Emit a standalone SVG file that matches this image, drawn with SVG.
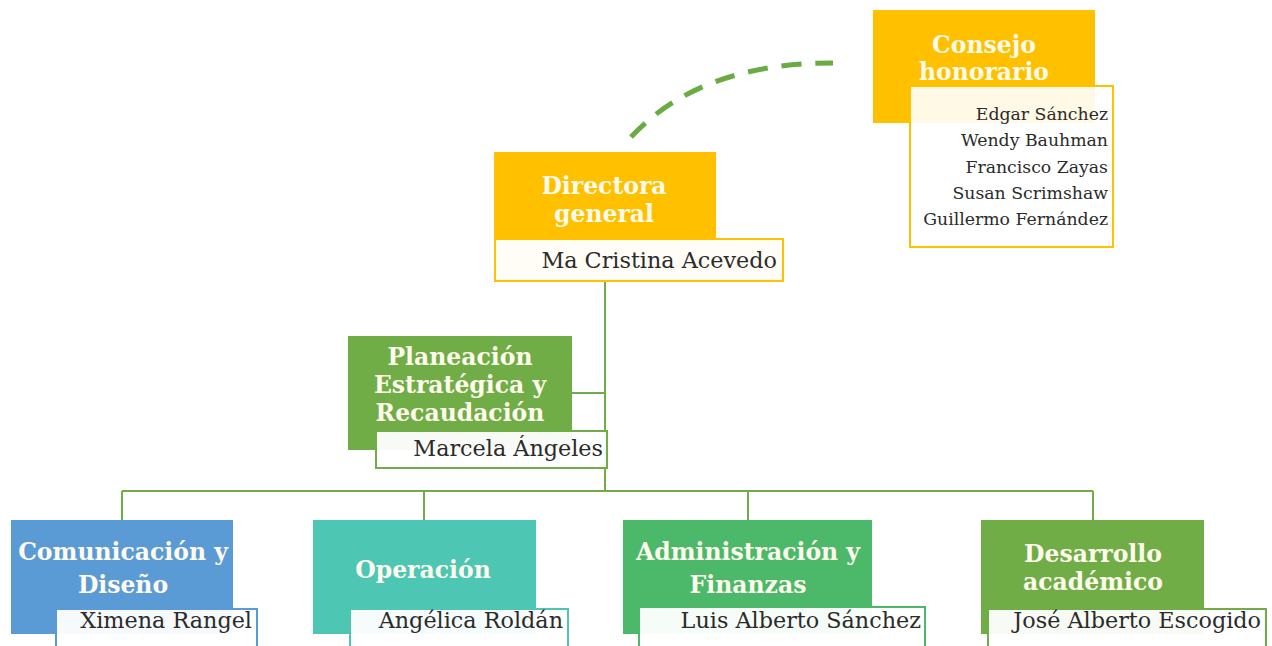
<svg xmlns="http://www.w3.org/2000/svg" width="1272" height="646" viewBox="0 0 1272 646">
<style>
.head{font-family:"DejaVu Serif","Liberation Serif",serif;font-weight:bold;font-size:23.5px;fill:#fffbec;text-anchor:middle}
.name{font-family:"DejaVu Serif","Liberation Serif",serif;font-size:22.3px;fill:#2b2b2b;text-anchor:end}
.small{font-family:"DejaVu Serif","Liberation Serif",serif;font-size:17.3px;fill:#2b2b2b;text-anchor:end}
.conn{fill:none;stroke:#70ad47;stroke-width:2}
.nb{stroke-width:2}
</style>
<rect width="1272" height="646" fill="#ffffff"/>
<g id="connectors">
<path class="conn" d="M605 282 V491 M572 393 H605 M122 491 H1093 M122 491 V520 M424 491 V520 M748 491 V520 M1093 491 V520"/>
<path d="M631 137 Q700 63 833 63" fill="none" stroke="#6aac43" stroke-width="5" stroke-dasharray="20 14"/>
</g>
<g id="consejo">
<rect x="873" y="10" width="222" height="113" fill="#ffc000"/>
<rect class="nb" x="910" y="86" width="203" height="161" fill="#ffffff" fill-opacity="0.9" stroke="#ffc000"/>
<text class="head" x="984" y="53">Consejo</text>
<text class="head" x="984" y="80">honorario</text>
<text class="small" x="1108" y="120">Edgar Sánchez</text>
<text class="small" x="1108" y="146">Wendy Bauhman</text>
<text class="small" x="1108" y="173">Francisco Zayas</text>
<text class="small" x="1108" y="199">Susan Scrimshaw</text>
<text class="small" x="1108" y="225">Guillermo Fernández</text>
</g>
<g id="directora">
<rect x="494" y="152" width="222" height="87" fill="#ffc000"/>
<rect class="nb" x="495" y="239" width="288" height="42" fill="#fffdf6" stroke="#ffc000"/>
<text class="head" x="604" y="194">Directora</text>
<text class="head" x="604" y="222">general</text>
<text class="name" x="777" y="268">Ma Cristina Acevedo</text>
</g>
<g id="planeacion">
<rect x="348" y="336" width="224" height="114" fill="#70ad47"/>
<rect class="nb" x="376" y="431" width="231" height="37" fill="#ffffff" fill-opacity="0.95" stroke="#70ad47"/>
<text class="head" x="460" y="365">Planeación</text>
<text class="head" x="460" y="393">Estratégica y</text>
<text class="head" x="460" y="421">Recaudación</text>
<text class="name" x="603" y="456">Marcela Ángeles</text>
</g>
<g id="comunicacion">
<rect x="11" y="520" width="222" height="114" fill="#5b9bd5"/>
<rect class="nb" x="56" y="609" width="201" height="45" fill="#ffffff" fill-opacity="0.95" stroke="#5b9bd5"/>
<text class="head" x="123" y="560">Comunicación y</text>
<text class="head" x="123" y="593">Diseño</text>
<text class="name" x="252" y="628">Ximena Rangel</text>
</g>
<g id="operacion">
<rect x="313" y="520" width="223" height="114" fill="#4dc6b4"/>
<rect class="nb" x="350" y="609" width="218" height="45" fill="#ffffff" fill-opacity="0.95" stroke="#4dc6b4"/>
<text class="head" x="423" y="578">Operación</text>
<text class="name" x="563" y="628">Angélica Roldán</text>
</g>
<g id="administracion">
<rect x="623" y="520" width="249" height="114" fill="#4cb96a"/>
<rect class="nb" x="639" y="607" width="286" height="47" fill="#ffffff" fill-opacity="0.95" stroke="#4cb96a"/>
<text class="head" x="748" y="560">Administración y</text>
<text class="head" x="748" y="593">Finanzas</text>
<text class="name" x="921" y="628">Luis Alberto Sánchez</text>
</g>
<g id="desarrollo">
<rect x="981" y="520" width="223" height="114" fill="#70ad47"/>
<rect class="nb" x="988" y="609" width="278" height="45" fill="#ffffff" fill-opacity="0.95" stroke="#70ad47"/>
<text class="head" x="1093" y="562">Desarrollo</text>
<text class="head" x="1093" y="590">académico</text>
<text class="name" x="1261" y="628">José Alberto Escogido</text>
</g>
</svg>
